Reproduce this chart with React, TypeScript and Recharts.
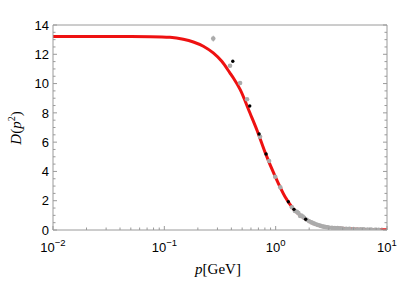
import React from 'react';
import { ComposedChart, Line, Scatter, XAxis, YAxis, ErrorBar } from 'recharts';

// red fit curve (p [GeV], D)
const curveP = [0.01, 0.03, 0.05, 0.0744, 0.1125, 0.148, 0.1823, 0.224, 0.275, 0.328, 0.389, 0.417, 0.479, 0.589, 0.681, 0.804, 0.989, 1.214, 1.43, 1.91, 2.67, 3.79, 5.38, 7.5, 10];
const curveD = [13.22, 13.22, 13.21, 13.2, 13.16, 13.03, 12.84, 12.55, 12.09, 11.52, 10.72, 10.38, 9.6, 7.97, 6.8, 5.3, 3.66, 2.27, 1.48, 0.68, 0.23, 0.12, 0.05, 0.02, 0.01];

// black lattice points
const blackP = [0.412, 0.585, 0.71, 0.82, 1.3, 1.46, 1.86];
const blackD = [11.52, 8.47, 6.56, 5.19, 1.93, 1.41, 0.73];

// gray lattice points
const grayP = [0.275, 0.389, 0.479, 0.553, 0.724, 0.873, 0.99, 1.1, 1.4, 1.49, 1.55, 1.6, 1.66, 1.7, 1.75, 1.8, 1.9, 2.0, 2.1, 2.2, 2.3, 2.4, 2.5, 2.6, 2.7, 2.8, 2.9, 3.0, 3.2, 3.4, 3.6, 3.8, 4.0, 4.3, 4.6, 5.0, 5.4, 5.8, 6.2, 6.7, 7.2, 7.8, 8.4];
const grayD = [13.07, 11.22, 10.04, 8.93, 6.37, 4.71, 3.64, 2.92, 1.55, 1.3, 1.25, 1.15, 0.96, 0.98, 0.92, 0.84, 0.7, 0.6, 0.52, 0.45, 0.39, 0.34, 0.3, 0.26, 0.23, 0.21, 0.19, 0.17, 0.155, 0.14, 0.13, 0.12, 0.1, 0.09, 0.08, 0.065, 0.055, 0.045, 0.04, 0.03, 0.025, 0.02, 0.015];
const grayErr = [0.2, 0, 0, 0, 0, 0, 0, 0, 0, 0, 0, 0, 0, 0, 0, 0, 0, 0, 0, 0, 0, 0, 0, 0, 0, 0, 0, 0, 0, 0, 0, 0, 0, 0, 0, 0, 0, 0, 0, 0, 0, 0, 0];

// ticks
const xMajorTicks = [0.01, 0.1, 1, 10];
const xTickExponents = ['\u22122', '\u22121', '0', '1'];
const xMinorTicks = [0.02, 0.03, 0.04, 0.05, 0.06, 0.07, 0.08, 0.09, 0.2, 0.3, 0.4, 0.5, 0.6, 0.7, 0.8, 0.9, 2, 3, 4, 5, 6, 7, 8, 9];
const yAllTicks = [0, 0.5, 1, 1.5, 2, 2.5, 3, 3.5, 4, 4.5, 5, 5.5, 6, 6.5, 7, 7.5, 8, 8.5, 9, 9.5, 10, 10.5, 11, 11.5, 12, 12.5, 13, 13.5, 14];
const yLabelTicks = [0, 2, 4, 6, 8, 10, 12, 14];

const curveData = curveP.map((p, i) => ({ p, d: curveD[i] }));
const blackData = blackP.map((p, i) => ({ p, d: blackD[i] }));
const grayData = grayP.map((p, i) => ({ p, d: grayD[i], err: grayErr[i] }));
const xAllTicks = [...xMajorTicks, ...xMinorTicks].sort((a, b) => a - b);

const FRAME = '#9a9a9a';
const SANS = 'Liberation Sans, Arial, Helvetica, sans-serif';
const SERIF = 'Liberation Serif, Times New Roman, serif';

const majorIdx = (v: number) => xMajorTicks.findIndex((t) => Math.abs(t - v) / t < 1e-6);

const BottomTick = (props: any) => {
  const { x, y, payload } = props;
  const idx = majorIdx(payload.value);
  const major = idx >= 0;
  return (
    <g>
      <line x1={x} y1={y} x2={x} y2={y - (major ? 4 : 2.5)} stroke={FRAME} strokeWidth={1} />
      {major && (
        <text x={x} y={y + 22} textAnchor="middle" fontFamily={SANS} fontSize={13} fill="#000">
          <tspan>10</tspan>
          <tspan dy={-6} fontSize={9.5}>{xTickExponents[idx]}</tspan>
        </text>
      )}
    </g>
  );
};

const TopTick = (props: any) => {
  const { x, y, payload } = props;
  const major = majorIdx(payload.value) >= 0;
  return <line x1={x} y1={y} x2={x} y2={y + (major ? 4 : 2.5)} stroke={FRAME} strokeWidth={1} />;
};

const LeftTick = (props: any) => {
  const { x, y, payload } = props;
  const v = payload.value;
  const major = yLabelTicks.includes(v);
  return (
    <g>
      <line x1={x} y1={y} x2={x + (major ? 4 : 2.5)} y2={y} stroke={FRAME} strokeWidth={1} />
      {major && (
        <text x={x - 4} y={y} dy="0.36em" textAnchor="end" fontFamily={SANS} fontSize={13} fill="#000">
          {v}
        </text>
      )}
    </g>
  );
};

const RightTick = (props: any) => {
  const { x, y, payload } = props;
  const major = yLabelTicks.includes(payload.value);
  return <line x1={x} y1={y} x2={x - (major ? 4 : 2.5)} y2={y} stroke={FRAME} strokeWidth={1} />;
};

const GrayDot = (props: any) => <circle cx={props.cx} cy={props.cy} r={2.3} fill="#ababab" />;
const BlackDot = (props: any) => <circle cx={props.cx} cy={props.cy} r={1.7} fill="#000" />;

export default function App() {
  return (
    <div style={{ position: 'absolute', left: 0, top: 0, width: 399, height: 290 }}>
      <ComposedChart width={399} height={290} margin={{ top: 24, right: 11, bottom: 59, left: 52 }}>
        <XAxis
          xAxisId="b"
          dataKey="p"
          type="number"
          scale="log"
          domain={[0.01, 10]}
          allowDataOverflow
          ticks={xAllTicks}
          interval={0}
          height={1}
          tickSize={0}
          tickMargin={0}
          tickLine={false}
          axisLine={{ stroke: FRAME }}
          tick={BottomTick}
          orientation="bottom"
        />
        <XAxis
          xAxisId="t"
          type="number"
          scale="log"
          domain={[0.01, 10]}
          allowDataOverflow
          ticks={xAllTicks}
          interval={0}
          height={1}
          tickSize={0}
          tickMargin={0}
          tickLine={false}
          axisLine={{ stroke: FRAME }}
          tick={TopTick}
          orientation="top"
        />
        <YAxis
          yAxisId="l"
          type="number"
          domain={[0, 14]}
          allowDataOverflow
          ticks={yAllTicks}
          interval={0}
          width={1}
          tickSize={0}
          tickMargin={0}
          tickLine={false}
          axisLine={{ stroke: FRAME }}
          tick={LeftTick}
          orientation="left"
        />
        <YAxis
          yAxisId="r"
          type="number"
          domain={[0, 14]}
          allowDataOverflow
          ticks={yAllTicks}
          interval={0}
          width={1}
          tickSize={0}
          tickMargin={0}
          tickLine={false}
          axisLine={{ stroke: FRAME }}
          tick={RightTick}
          orientation="right"
        />
        <Line
          xAxisId="b"
          yAxisId="l"
          data={curveData}
          dataKey="d"
          type="monotone"
          stroke="#ee1111"
          strokeWidth={3}
          dot={false}
          activeDot={false}
          isAnimationActive={false}
        />
        <Scatter xAxisId="b" yAxisId="l" data={grayData} dataKey="d" shape={GrayDot} isAnimationActive={false}>
          <ErrorBar dataKey="err" direction="y" width={0} stroke="#ababab" strokeWidth={1} />
        </Scatter>
        <Scatter xAxisId="b" yAxisId="l" data={blackData} dataKey="d" shape={BlackDot} isAnimationActive={false} />
      </ComposedChart>
      <svg width={399} height={290} style={{ position: 'absolute', left: 0, top: 0, pointerEvents: 'none' }}>
        <text x={218} y={274} textAnchor="middle" fontFamily={SERIF} fontSize={15} fill="#000">
          <tspan fontStyle="italic">p</tspan>
          <tspan>[GeV]</tspan>
        </text>
        <text x={0} y={0} transform="translate(21,128) rotate(-90)" textAnchor="middle" fontFamily={SERIF} fontSize={15} fill="#000">
          <tspan fontStyle="italic">D</tspan>
          <tspan>(</tspan>
          <tspan fontStyle="italic">p</tspan>
          <tspan dy={-6} fontSize={10}>2</tspan>
          <tspan dy={6}>)</tspan>
        </text>
      </svg>
    </div>
  );
}
